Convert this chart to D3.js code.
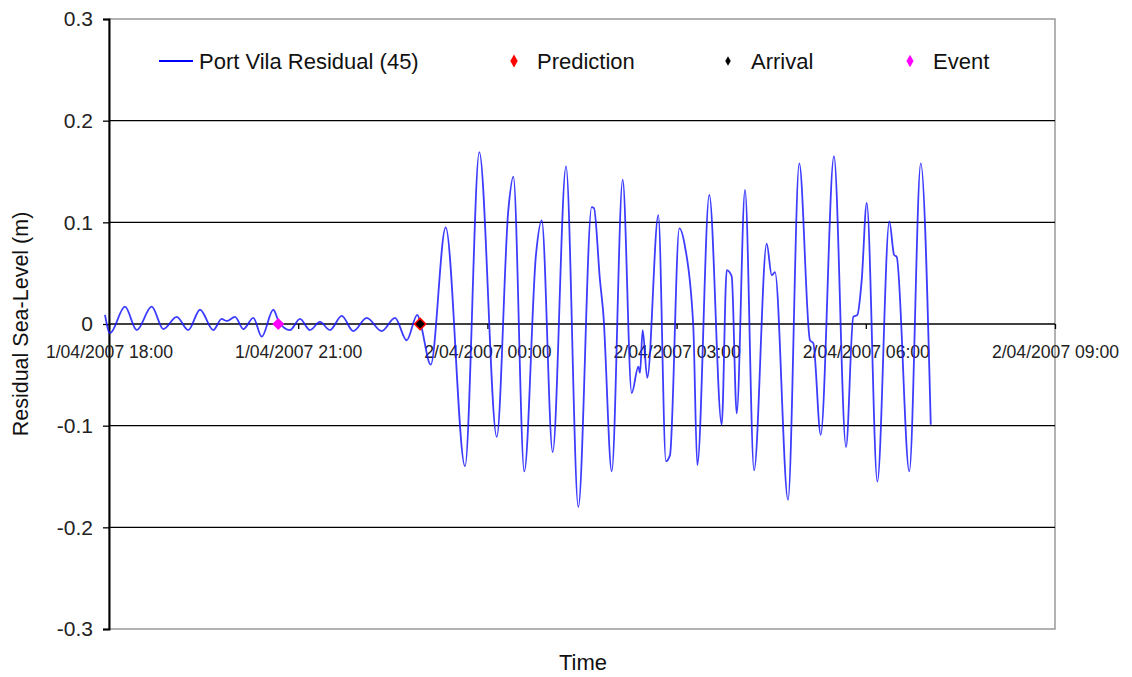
<!DOCTYPE html>
<html><head><meta charset="utf-8">
<script src="https://cdn.jsdelivr.net/npm/d3@7/dist/d3.min.js"></script>
<style>
html,body{margin:0;padding:0;background:#fff;}
svg{display:block;font-family:"Liberation Sans",Arial,sans-serif;}
</style></head>
<body>
<svg id="chart" width="1132" height="677"></svg>
<script>
// ---- data (minutes after 1/04/2007 18:00, residual in metres) ----
const seriesName = "Port Vila Residual (45)";
const minutes = [-3.8, 1.0, 15.2, 26.4, 40.6, 51.7, 64.4, 75.4, 86.6, 99.2, 107.2, 112.0, 119.9, 127.8, 137.3, 145.3, 156.3, 161.7, 172.2, 181.7, 191.2, 200.7, 210.2, 221.4, 232.4, 245.2, 259.4, 272.1, 283.2, 293.3, 296.5, 306.1, 320.3, 338.7, 352.3, 368.9, 379.9, 384.7, 395.1, 406.2, 411.7, 422.1, 434.8, 446.5, 459.2, 461.4, 467.1, 470.3, 478.3, 488.7, 497.3, 503.6, 505.2, 507.7, 512.1, 522.6, 529.9, 533.7, 542.6, 548.0, 555.9, 559.7, 571.1, 582.9, 587.7, 592.4, 597.2, 605.1, 613.7, 625.7, 630.5, 633.6, 646.0, 656.7, 666.9, 670.1, 677.1, 689.7, 701.2, 708.1, 712.0, 716.1, 720.9, 731.0, 742.4, 746.9, 749.4, 761.4, 772.3, 781.8];
const residual = [0.009, -0.009, 0.017, -0.006, 0.017, -0.005, 0.007, -0.006, 0.014, -0.006, 0.005, 0.003, 0.007, -0.005, 0.006, -0.0125, 0.014, 0.002, -0.006, 0.005, -0.006, 0.002, -0.006, 0.008, -0.007, 0.006, -0.007, 0.006, -0.016, 0.009, 0.000, -0.040, 0.095, -0.140, 0.169, -0.111, 0.112, 0.145, -0.145, 0.068, 0.102, -0.126, 0.155, -0.180, 0.115, 0.114, 0.043, 0.010, -0.145, 0.142, -0.068, -0.042, -0.048, -0.006, -0.053, 0.107, -0.135, -0.129, 0.094, 0.076, -0.003, -0.139, 0.127, -0.099, 0.053, 0.047, -0.088, 0.132, -0.144, 0.079, 0.048, 0.051, -0.173, 0.158, -0.016, -0.019, -0.109, 0.165, -0.121, 0.007, 0.009, 0.043, 0.119, -0.155, 0.101, 0.068, 0.066, -0.145, 0.158, -0.099];
const markerNames = ["Prediction", "Arrival", "Event"];
const markerTimes = ["2007-04-01T22:56", "2007-04-01T22:56", "2007-04-01T20:41"];
const markerValues = [0, 0, 0];
const markerColors = ["#ff0000", "#000000", "#ff00ff"];
const yTicks = [-0.3, -0.2, -0.1, 0, 0.1, 0.2, 0.3];
const yTickLabels = ["-0.3", "-0.2", "-0.1", "0", "0.1", "0.2", "0.3"];

// ---- layout ----
const svg = d3.select("#chart");
const L = 109, R = 1055, T = 19, B = 629;
const parse = d3.isoParse;
const start = new Date(2007, 3, 1, 18, 0);
const x = d3.scaleTime().domain([new Date(2007,3,1,18,0), new Date(2007,3,2,9,0)]).range([L, R]);
const y = d3.scaleLinear().domain([-0.3, 0.3]).range([B, T]);

const data = minutes.map((m, i) => ({t: new Date(+start + m * 60000), v: residual[i]}));

// plot frame (grey top/right)
svg.append("rect").attr("x", L).attr("y", T).attr("width", R - L).attr("height", B - T)
  .attr("fill", "none").attr("stroke", "#999").attr("stroke-width", 1.5);

// gridlines
svg.append("g").selectAll("line").data(yTicks.filter(d => d > -0.3 && d < 0.3)).join("line")
  .attr("x1", L).attr("x2", R).attr("y1", d => y(d)).attr("y2", d => y(d))
  .attr("stroke", "#000").attr("stroke-width", 1.3);

// y axis
const yAxis = d3.axisLeft(y).tickValues(yTicks).tickSize(6).tickPadding(10)
  .tickFormat((d, i) => yTickLabels[i]);
const gy = svg.append("g").attr("transform", `translate(${L},0)`).call(yAxis);
gy.select(".domain").attr("stroke", "#000").attr("stroke-width", 2);
gy.selectAll(".tick line").attr("stroke", "#000").attr("stroke-width", 1.3);
gy.selectAll("text").attr("font-size", 21).attr("fill", "#222").attr("font-family", "Liberation Sans, Arial, sans-serif");

// x axis at zero
const xAxis = d3.axisBottom(x).ticks(d3.timeHour.every(3)).tickSize(5)
  .tickFormat(d => d3.timeFormat("%-d/%m/%Y %H:%M")(d));
const gx = svg.append("g").attr("transform", `translate(0,${y(0)})`).call(xAxis);
gx.select(".domain").remove();
gx.selectAll(".tick line").attr("stroke", "#000").attr("stroke-width", 1.3);
gx.selectAll("text").attr("dy", null).attr("y", 34).attr("font-size", 17.6).attr("fill", "#222")
  .attr("font-family", "Liberation Sans, Arial, sans-serif");

// series line
svg.append("path").datum(data)
  .attr("fill", "none").attr("stroke", "#1a1aff").attr("stroke-width", 1.8).attr("stroke-opacity", 0.85)
  .attr("d", d3.line().x(d => x(d.t)).y(d => y(d.v)).curve(d3.curveMonotoneX));

// markers (square diamonds on chart)
const markerSizes = [90, 42, 72];
markerNames.forEach((n, i) => {
  svg.append("path")
    .attr("d", d3.symbol().type(d3.symbolSquare).size(markerSizes[i])())
    .attr("transform", `translate(${x(parse(markerTimes[i]))},${y(markerValues[i])}) rotate(45)`)
    .attr("fill", markerColors[i]);
});

// legend
const lg = svg.append("g").attr("font-size", 22).attr("fill", "#111");
lg.append("line").attr("x1", 159).attr("x2", 193).attr("y1", 61).attr("y2", 61)
  .attr("stroke", "#0000ff").attr("stroke-width", 1.8);
lg.append("text").attr("x", 199).attr("y", 69).text(seriesName);
const legX = [514, 728, 910];
const legSizes = [48, 26, 44];
markerNames.forEach((n, i) => {
  lg.append("path").attr("d", d3.symbol().type(d3.symbolDiamond).size(legSizes[i])())
    .attr("transform", `translate(${legX[i]},61)`).attr("fill", markerColors[i]);
  lg.append("text").attr("x", legX[i] + 23).attr("y", 69).text(n);
});

// axis titles
svg.append("text").attr("x", 583).attr("y", 670).attr("text-anchor", "middle")
  .attr("font-size", 22).attr("fill", "#111").text("Time");
svg.append("text").attr("transform", "translate(28,324) rotate(-90)").attr("text-anchor", "middle")
  .attr("font-size", 21.5).attr("fill", "#111").text("Residual Sea-Level (m)");
</script>
</body></html>
